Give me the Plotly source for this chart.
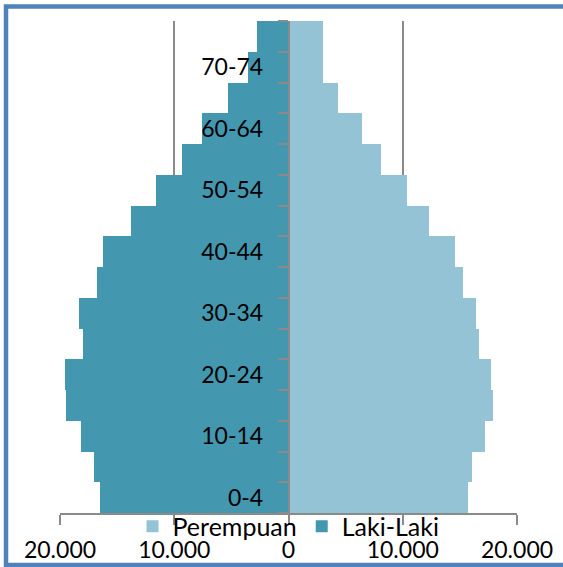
import plotly.graph_objects as go

age_groups = ["0-4", "5-9", "10-14", "15-19", "20-24", "25-29", "30-34", "35-39",
              "40-44", "45-49", "50-54", "55-59", "60-64", "65-69", "70-74", "75+"]
laki_laki = [16480, 17040, 18150, 19500, 19600, 18020, 18300, 16760,
             16200, 13800, 11570, 9340, 7550, 5280, 3520, 2740]
perempuan = [15750, 16080, 17210, 17890, 17740, 16660, 16380, 15250,
             14560, 12330, 10380, 8110, 6450, 4340, 3000, 3000]
x_tick_vals = [-20000, -10000, 0, 10000, 20000]
x_tick_text = ["20.000", "10.000", "0", "10.000", "20.000"]

FONT = "Lato"
GRAY = "#8a8a8a"
idx = list(range(len(age_groups)))

fig = go.Figure()
fig.add_trace(go.Bar(
    y=idx, x=perempuan, orientation="h", name="Perempuan",
    marker=dict(color="#93C3D5", line=dict(width=0)),
))
fig.add_trace(go.Bar(
    y=idx, x=[-v for v in laki_laki], orientation="h", name="Laki-Laki",
    marker=dict(color="#4398B0", line=dict(width=0)),
))

W, H = 563, 567
L, R, T, B = 60, 46, 21, 54
pw, ph = W - L - R, H - T - B

def px_x(p):
    return (p - L) / pw

def px_y(p):
    return (H - B - p) / ph

fig.update_layout(
    width=W, height=H,
    margin=dict(l=L, r=R, t=T, b=B, autoexpand=False),
    barmode="overlay", bargap=0,
    plot_bgcolor="white", paper_bgcolor="white",
    font=dict(family=FONT, color="black"),
    showlegend=True,
    legend=dict(
        orientation="h", x=0.5, xanchor="center", y=px_y(526.5), yanchor="middle",
        font=dict(family=FONT, size=25), bgcolor="rgba(0,0,0,0)",
        traceorder="normal", itemwidth=30,
    ),
    xaxis=dict(
        range=[-20000, 20000], tickvals=x_tick_vals, ticktext=x_tick_text,
        showgrid=True, gridcolor=GRAY, gridwidth=1.5, zeroline=False,
        showline=True, linecolor=GRAY, linewidth=1.5,
        ticks="outside", ticklen=10, tickcolor=GRAY, tickwidth=1.5,
        tickfont=dict(family=FONT, size=23), ticklabelstandoff=6,
        automargin=False, fixedrange=True,
    ),
    yaxis=dict(
        range=[-0.5, len(age_groups) - 0.5],
        tickvals=idx[::2], ticktext=age_groups[::2],
        anchor="free", position=0.5, side="left",
        showline=True, linecolor=GRAY, linewidth=1.5,
        showgrid=False, zeroline=False, ticks="",
        tickfont=dict(family=FONT, size=23), ticklabelstandoff=20,
        minor=dict(tickvals=[i - 0.5 for i in idx] + [len(idx) - 0.5],
                   ticks="outside", ticklen=10, tickcolor=GRAY, tickwidth=1.5,
                   showgrid=False),
        automargin=False, fixedrange=True,
    ),
    shapes=[dict(
        type="rect", xref="paper", yref="paper",
        x0=px_x(6), x1=px_x(568), y0=px_y(6.5), y1=px_y(565),
        line=dict(color="#4F81BD", width=4.5), fillcolor="rgba(0,0,0,0)",
        layer="above",
    )],
)

fig.write_html("out.html", config={"displayModeBar": False},
               post_script="document.body.style.margin='0';")
